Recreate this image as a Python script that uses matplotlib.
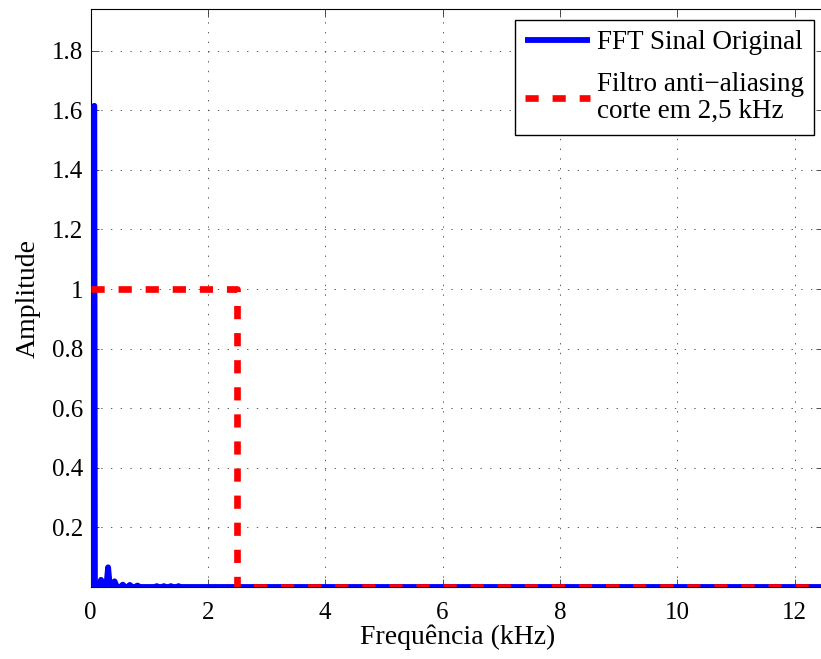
import matplotlib
matplotlib.use("Agg")
import matplotlib.pyplot as plt
import numpy as np

# ---- data ----
fft_freq_khz = [0.0, 0.055, 0.06, 0.065, 0.075, 0.14, 0.18, 0.22, 0.27, 0.30, 0.33, 0.38, 0.41, 0.45,
                0.51, 0.55, 0.59, 0.63, 0.67, 0.71, 0.76, 0.80, 0.84,
                1.10, 1.13, 1.16, 1.22, 1.25, 1.28, 1.34, 1.37, 1.40, 1.47, 1.50, 1.53, 12.5]
fft_amp = [0.0, 0.0, 1.61, 1.615, 0.0, 0.0, 0.024, 0.0, 0.0, 0.066, 0.0, 0.0, 0.019, 0.0,
           0.0, 0.008, 0.0, 0.0, 0.007, 0.0, 0.0, 0.005, 0.0,
           0.0, 0.003, 0.0, 0.0, 0.003, 0.0, 0.0, 0.003, 0.0, 0.0, 0.003, 0.0, 0.0]

filter_freq_khz = [0.0, 2.5, 2.5, 12.5]
filter_amp = [1.0, 1.0, 0.0, 0.0]

xticks = [0, 2, 4, 6, 8, 10, 12]
yticks = [0.2, 0.4, 0.6, 0.8, 1.0, 1.2, 1.4, 1.6, 1.8]

label_fft = "FFT Sinal Original"
label_filter = "Filtro anti\u2212aliasing\ncorte em 2,5 kHz"
xlabel = "Frequência (kHz)"
ylabel = "Amplitude"

# ---- style ----
plt.rcParams['font.family'] = ['Liberation Serif', 'DejaVu Serif']
plt.rcParams['lines.scale_dashes'] = False

W, H = 821, 659
fig = plt.figure(figsize=(W / 100, H / 100), dpi=100)
left_px, right_px, top_px, bot_px = 90.5, 824.0, 9.0, 587.0
ax = fig.add_axes([left_px / W, 1 - bot_px / H, (right_px - left_px) / W, (bot_px - top_px) / H])

ax.plot(fft_freq_khz, fft_amp, color='#0000ff', lw=4.2, solid_joinstyle='round',
        solid_capstyle='butt', label=label_fft, zorder=3)
ax.plot(filter_freq_khz, filter_amp, color='#ff0000', lw=4.8, linestyle=(0, (9.5, 10)),
        dash_capstyle='butt', label=label_filter, zorder=4)

ax.set_xlim(0, 12.5)
ax.set_ylim(0, 1.94)
ax.set_xticks(xticks)
ax.set_xticklabels([f"{v:g}" for v in xticks])
ax.set_yticks(yticks)
ax.set_yticklabels([f"{v:g}" for v in yticks])

ax.tick_params(direction='in', length=5.5, width=0.6, top=True, right=True,
               labelsize=18, color='#333333')
ax.tick_params(axis='x', pad=11)
ax.tick_params(axis='y', pad=5)
ax.grid(True, color='#444444', linestyle=(0, (1, 6)), linewidth=0.6)
ax.set_axisbelow(True)
for s in ax.spines.values():
    s.set_linewidth(0.8)
    s.set_color('black')

ax.set_xlabel(xlabel, fontsize=20, labelpad=0)
ax.set_ylabel(ylabel, fontsize=20, labelpad=8)

leg = ax.legend(loc='upper right', bbox_to_anchor=(814 / W, 1 - 20 / H),
                bbox_transform=fig.transFigure, borderaxespad=0,
                fontsize=19.5, handlelength=2.4, handletextpad=0.25,
                borderpad=0.38, labelspacing=0.62, fancybox=False,
                framealpha=1, edgecolor='black')
leg.get_frame().set_linewidth(1.0)
for t in leg.get_texts():
    t.set_linespacing(1.12)

fig.savefig("out.png", dpi=100)
